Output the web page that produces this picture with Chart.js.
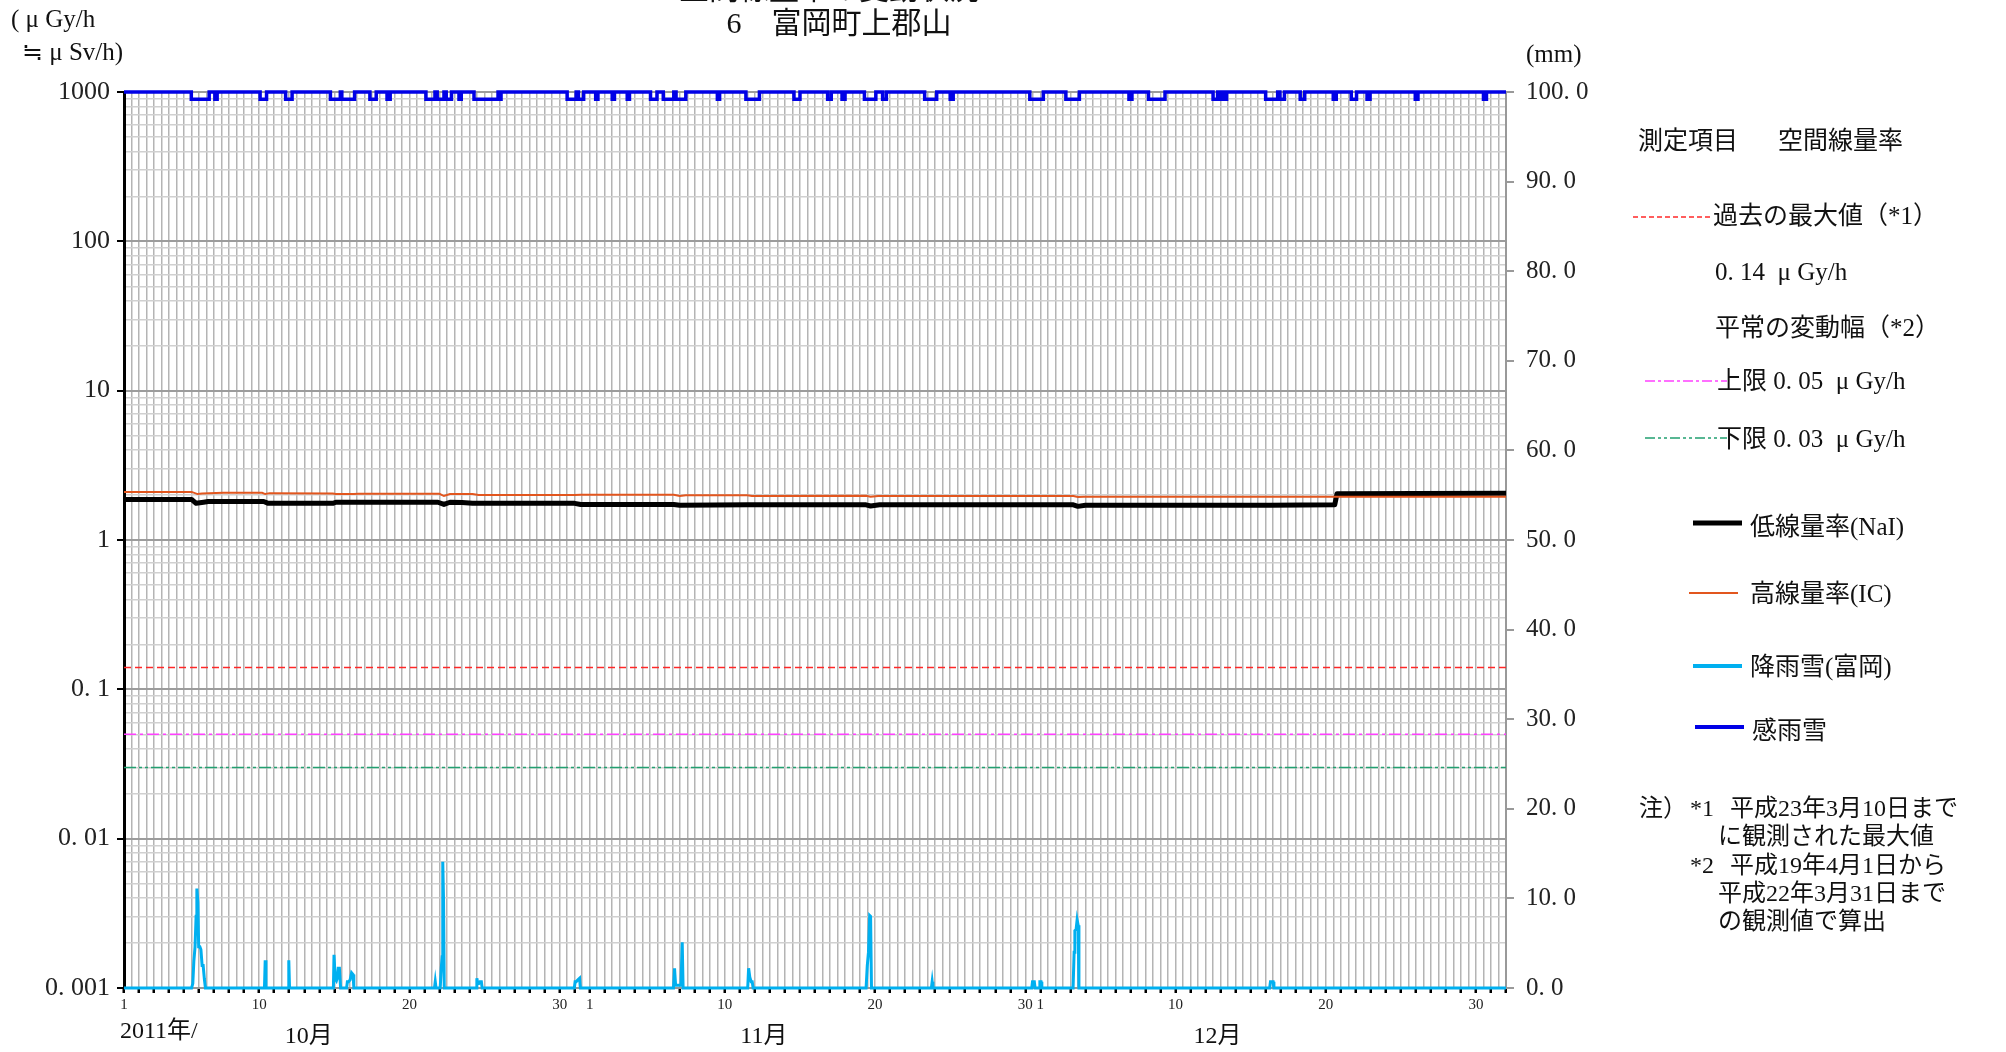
<!DOCTYPE html>
<html><head><meta charset="utf-8">
<script src="https://cdn.jsdelivr.net/npm/chart.js@4.4.1/dist/chart.umd.min.js"></script>
<style>html,body{margin:0;padding:0;background:#fff;}#wrap{width:2006px;height:1052px;}</style>
</head><body><div id="wrap"><canvas id="c" width="2006" height="1052"></canvas></div>
<script>
// ---- data (x = days since 2011-10-01 00:00) ----
const xTickDays = [0, 9, 19, 29, 31, 40, 50, 60, 61, 70, 80, 90];
const xTickText = ['1','10','20','30','1','10','20','30','1','10','20','30'];
const monthLabels = ['10月','11月','12月'];
const monthLabelAt = [12.3, 42.6, 72.8];
const yTickValues = [1000, 100, 10, 1, 0.1, 0.01, 0.001];
const yTickText = ['1000','100','10','1','0. 1','0. 01','0. 001'];
const rainTickValues = [0,10,20,30,40,50,60,70,80,90,100];
const rainTickText = ['0. 0','10. 0','20. 0','30. 0','40. 0','50. 0','60. 0','70. 0','80. 0','90. 0','100. 0'];

const naiDays = [0,4.5,4.8,5.3,5.6,9.3,9.6,13.9,14.1,20.9,21.3,21.7,22.5,23.2,30.0,30.4,36.6,37.0,41.5,49.4,49.7,50.3,63.2,63.5,64.0,76.3,80.6,80.75,86,92];
const naiValues = [1.87,1.87,1.76,1.79,1.81,1.81,1.76,1.76,1.79,1.79,1.73,1.79,1.78,1.76,1.76,1.73,1.73,1.71,1.72,1.72,1.69,1.72,1.72,1.68,1.71,1.71,1.72,2.04,2.05,2.06];

const icDays = [0,4.5,4.9,5.2,6.6,9.2,9.4,9.7,13.9,14.1,15.3,15.6,21.0,21.3,21.7,23.2,23.6,30.0,30.4,36.6,37.0,37.4,41.5,41.8,49.4,49.7,50.2,63.2,63.5,63.9,76.3,92];
const icValues = [2.10,2.10,2.03,2.05,2.07,2.07,2.03,2.06,2.05,2.03,2.03,2.04,2.04,1.97,2.03,2.03,2.00,2.00,2.01,2.01,1.97,1.99,1.99,1.97,1.98,1.95,1.97,1.97,1.94,1.95,1.95,1.95];

const rainDays = [0, 4.50,4.58,4.65,4.73,4.80,4.85,4.92,4.97,5.05,5.12,5.20,5.27,5.35,5.42, 9.35,9.40,9.45, 10.92,10.97,11.02, 13.94,13.98,14.06,14.14,14.20,14.26,14.34,14.42, 14.82,14.87,14.95,15.05,15.15,15.25,15.30, 20.67,20.72,20.77, 21.05,21.12,21.18,21.22,21.27,21.32, 23.44,23.49,23.55,23.62,23.70,23.79,23.84, 29.98,30.03,30.10,30.20,30.33,30.38, 36.58,36.65,36.72,37.08,37.16,37.22, 41.52,41.58,41.66,41.75,41.82,41.88, 49.40,49.48,49.56,49.64,49.70,49.76, 53.75,53.80,53.85, 60.43,60.48,60.60,60.65, 60.92,60.97,61.05,61.10, 63.18,63.25,63.30,63.38,63.45,63.52,63.57, 76.27,76.32,76.50,76.55, 92];
const rainMm = [0, 0,0.5,3.0,4.6,8.0,11.1,9.6,4.6,4.6,4.3,2.5,2.5,1.0,0, 0,3.1,0, 0,3.1,0, 0,3.7,1.0,0.8,1.1,2.2,2.2,0, 0,0.7,0.7,0.9,1.7,1.5,0, 0,0.7,0, 0,2.2,3.5,14.1,10.0,0, 0,1.1,0.5,0.5,0.7,0.7,0, 0,0.7,0.7,0.9,1.1,0, 0,2.2,0.3,0.3,5.1,0, 0,2.2,1.2,0.7,0.7,0, 0,2.5,4.0,8.1,8.0,0, 0,0.7,0, 0,0.7,0.7,0, 0,0.7,0.7,0, 0,4.0,6.4,6.5,7.6,7.0,0, 0,0.7,0.7,0, 0];

const senseStart = [4.48,6.05,9.06,10.76,13.74,14.5,16.37,17.51,20.1,20.85,21.45,22.3,23.3,25.0,29.5,30.25,31.4,32.5,33.5,35.05,35.9,36.75,39.5,41.4,44.6,46.84,47.8,49.29,50.5,53.3,55.0,60.3,62.7,66.9,68.2,72.5,72.9,73.2,76.0,76.95,78.3,80.5,81.7,82.75,85.96,90.5];
const senseEnd   = [5.67,6.2,9.49,11.19,14.4,15.35,16.79,17.72,20.7,21.3,21.8,22.45,24.9,25.1,30.1,30.6,31.55,32.65,33.65,35.48,36.6,37.4,39.65,42.3,45.0,47.08,48.0,50.05,50.75,54.1,55.2,61.2,63.6,67.1,69.3,72.8,73.1,73.4,76.8,77.25,78.6,80.7,82.05,82.95,86.14,90.7];
const senseOff = 100, senseOn = 99.2;

const pastMax = 0.14, normalUpper = 0.05, normalLower = 0.03;
const dayMin = 0, dayMax = 92;

// ---- build datasets ----
const pts = (xs, ys) => xs.map((x, i) => ({x: x, y: ys[i]}));
const sensePts = [{x: dayMin, y: senseOff}];
senseStart.forEach((s, i) => {
  sensePts.push({x: s, y: senseOff}, {x: s, y: senseOn}, {x: senseEnd[i], y: senseOn}, {x: senseEnd[i], y: senseOff});
});
sensePts.push({x: dayMax, y: senseOff});
const hline = v => [{x: dayMin, y: v}, {x: dayMax, y: v}];

const FONT = '"Liberation Serif", "Noto Sans CJK JP", serif';
const isDecade = v => Math.abs(Math.log10(v) - Math.round(Math.log10(v))) < 1e-9;

const textPlugin = {
  id: 'texts',
  afterDraw(chart) {
    const ctx = chart.ctx;
    ctx.save();
    ctx.fillStyle = '#111';
    ctx.textBaseline = 'middle';
    // title
    ctx.textAlign = 'center';
    ctx.font = '30px ' + FONT;
    ctx.fillText('空間線量率の変動状況', 829, -9);
    ctx.fillText('6　富岡町上郡山', 839, 25);
    // axis titles
    ctx.textAlign = 'left';
    ctx.font = '25px ' + FONT;
    ctx.fillText('( μ Gy/h', 11, 20);
    ctx.fillText('≒ μ Sv/h)', 22, 53);
    ctx.fillText('(mm)', 1526, 55);
    // x axis year/month
    ctx.font = '24px ' + FONT;
    ctx.fillText('2011年/', 120, 1032);
    ctx.textAlign = 'center';
    const xs = chart.scales.x;
    monthLabels.forEach((m, i) => ctx.fillText(m, xs.getPixelForValue(monthLabelAt[i]), 1037));
    // legend
    ctx.textAlign = 'left';
    ctx.font = '25px ' + FONT;
    ctx.fillText('測定項目', 1638, 142);
    ctx.fillText('空間線量率', 1778, 142);
    ctx.fillText('過去の最大値（*1）', 1713, 217);
    ctx.fillText('0. 14  μ Gy/h', 1715, 273);
    ctx.fillText('平常の変動幅（*2）', 1715, 329);
    ctx.fillText('低線量率(NaI)', 1750, 528);
    ctx.fillText('高線量率(IC)', 1750, 595);
    ctx.fillText('降雨雪(富岡)', 1750, 668);
    ctx.fillText('感雨雪', 1752, 732);
    const seg = (x1, x2, y, color, w, dash) => {
      ctx.beginPath(); ctx.setLineDash(dash || []); ctx.strokeStyle = color; ctx.lineWidth = w;
      ctx.moveTo(x1, y); ctx.lineTo(x2, y); ctx.stroke();
    };
    seg(1633, 1713, 217, '#ff2828', 1.5, [5, 3]);
    seg(1645, 1727, 381, '#ff40ff', 1.5, [10, 3, 3, 3]);
    seg(1645, 1727, 438, '#22a070', 1.5, [10, 3, 3, 3, 3, 3]);
    ctx.setLineDash([]);
    ctx.fillText('上限 0. 05  μ Gy/h', 1717, 382);
    ctx.fillText('下限 0. 03  μ Gy/h', 1717, 440);
    seg(1693, 1742, 523, '#000000', 5);
    seg(1689, 1738, 593, '#e2561e', 2);
    seg(1693, 1742, 666, '#00b0f0', 4);
    seg(1695, 1744, 727, '#0000e6', 4);
    // notes
    ctx.font = '24px ' + FONT;
    ctx.fillText('注）', 1639, 810);
    ctx.fillText('*1', 1690, 810);
    ctx.fillText('平成23年3月10日まで', 1730, 810);
    ctx.fillText('に観測された最大値', 1718, 838);
    ctx.fillText('*2', 1690, 867);
    ctx.fillText('平成19年4月1日から', 1730, 867);
    ctx.fillText('平成22年3月31日まで', 1718, 895);
    ctx.fillText('の観測値で算出', 1718, 923);
    ctx.restore();
  }
};

new Chart(document.getElementById('c'), {
  type: 'line',
  data: {
    datasets: [
      {label: '感雨雪', data: sensePts, yAxisID: 'yR', borderColor: '#0000e6', borderWidth: 3.5, pointRadius: 0, clip: false, order: 0},
      {label: '降雨雪(富岡)', data: pts(rainDays, rainMm), yAxisID: 'yR', borderColor: '#00b0f0', borderWidth: 3, pointRadius: 0, clip: false, order: 0.5},
      {label: '高線量率(IC)', data: pts(icDays, icValues), yAxisID: 'y', borderColor: '#e2561e', borderWidth: 2, pointRadius: 0, order: 1},
      {label: '低線量率(NaI)', data: pts(naiDays, naiValues), yAxisID: 'y', borderColor: '#000000', borderWidth: 5, pointRadius: 0, order: 2, borderJoinStyle: 'round', borderCapStyle: 'round'},
      {label: '過去の最大値', data: hline(pastMax), yAxisID: 'y', borderColor: '#ff2828', borderWidth: 1.5, borderDash: [7, 4], pointRadius: 0, order: 3},
      {label: '上限', data: hline(normalUpper), yAxisID: 'y', borderColor: '#ff40ff', borderWidth: 1.5, borderDash: [12, 4, 3, 4], pointRadius: 0, order: 3},
      {label: '下限', data: hline(normalLower), yAxisID: 'y', borderColor: '#22a070', borderWidth: 1.5, borderDash: [12, 3, 3, 3, 3, 3], pointRadius: 0, order: 3}
    ]
  },
  options: {
    responsive: false,
    animation: false,
    events: [],
    elements: {line: {tension: 0}},
    layout: {padding: {top: 92, left: 0, right: 0, bottom: 0}},
    plugins: {legend: {display: false}, tooltip: {enabled: false}, title: {display: false}},
    scales: {
      x: {
        type: 'linear', position: 'bottom', min: dayMin, max: dayMax,
        afterBuildTicks: s => { const t = []; for (let v = dayMin; v <= dayMax + 1e-9; v += 0.5) t.push({value: v}); s.ticks = t; },
        afterFit: s => { s.height = 64; },
        grid: {
          color: '#b4b4b4', lineWidth: 1.5,
          tickColor: c => Number.isInteger(c.tick.value) ? '#000' : 'rgba(0,0,0,0)',
          tickLength: 5, tickWidth: 2.5
        },
        border: {display: true, color: '#999', width: 2},
        ticks: {
          autoSkip: false, maxRotation: 0, minRotation: 0, padding: 3, color: '#222',
          font: {family: FONT, size: 15},
          callback: v => { const i = xTickDays.indexOf(v); return i >= 0 ? xTickText[i] : ''; }
        }
      },
      y: {
        type: 'logarithmic', position: 'left', min: 0.001, max: 1000,
        afterBuildTicks: s => {
          const t = [];
          for (let e = -3; e <= 2; e++) for (let m = 1; m <= 9; m++) t.push({value: m * Math.pow(10, e)});
          t.push({value: 1000});
          s.ticks = t;
        },
        afterFit: s => { s.width = 124; },
        grid: {
          color: c => isDecade(c.tick.value) ? '#9c9c9c' : '#d0d0d0',
          lineWidth: c => isDecade(c.tick.value) ? 2 : 1.5,
          tickColor: c => isDecade(c.tick.value) ? '#000' : 'rgba(0,0,0,0)',
          tickLength: 7, tickWidth: 2
        },
        border: {display: true, color: '#000', width: 3},
        ticks: {
          autoSkip: false, padding: 7, color: '#222',
          font: {family: FONT, size: 26},
          callback: v => { const i = yTickValues.findIndex(t => Math.abs(t - v) < v * 1e-6); return i >= 0 ? yTickText[i] : ''; }
        }
      },
      yR: {
        type: 'linear', position: 'right', min: 0, max: 100,
        afterBuildTicks: s => { s.ticks = rainTickValues.map(v => ({value: v})); },
        afterFit: s => { s.width = 500; },
        grid: {drawOnChartArea: false, color: '#999', tickLength: 8, lineWidth: 2},
        border: {display: true, color: '#999', width: 2},
        ticks: {
          autoSkip: false, padding: 12, color: '#222',
          font: {family: FONT, size: 25},
          callback: v => { const i = rainTickValues.indexOf(v); return i >= 0 ? rainTickText[i] : ''; }
        }
      }
    }
  },
  plugins: [textPlugin]
});
</script></body></html>
